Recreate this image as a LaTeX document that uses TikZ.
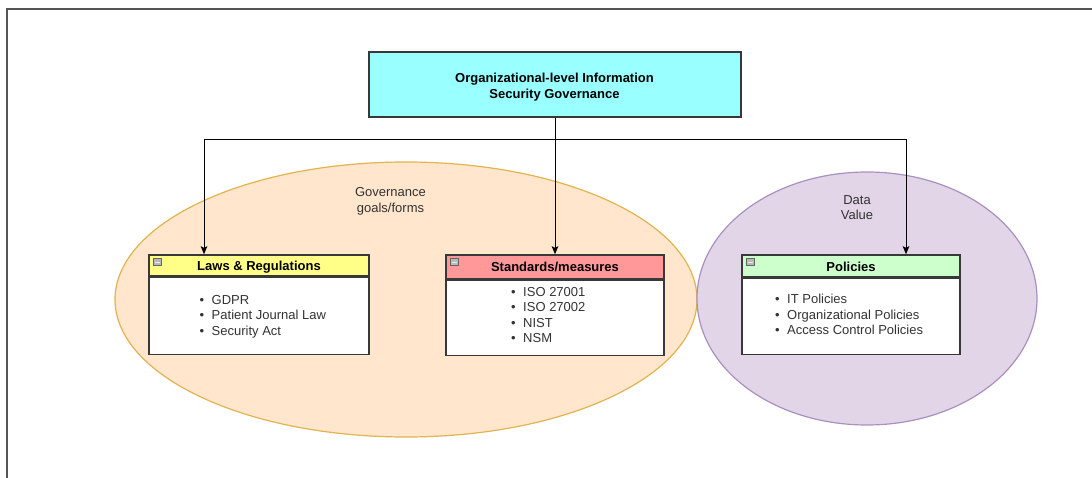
\documentclass[tikz,border=0pt]{standalone}
\usepackage{fontspec}
\setmainfont{Liberation Sans}
\usetikzlibrary{arrows.meta,calc,shapes.geometric}

\definecolor{topfill}{HTML}{99FFFF}
\definecolor{govfill}{HTML}{FFE6CC}
\definecolor{govline}{HTML}{E2B34E}
\definecolor{valfill}{HTML}{E1D5E7}
\definecolor{valline}{HTML}{AA90C0}
\definecolor{lawfill}{HTML}{FFFF88}
\definecolor{stdfill}{HTML}{FF9999}
\definecolor{polfill}{HTML}{CCFFCC}
\definecolor{boxline}{HTML}{383838}
\definecolor{itemtext}{HTML}{333333}
\definecolor{framecol}{HTML}{555555}

\newcommand{\bodyfont}{\fontsize{13}{15.6}\selectfont}
% bullet list, baseline on its first line
\newcommand{\bulletlist}[1]{%
  \begin{tabular}[t]{@{}l@{\hspace{7.5pt}}l@{}}#1\end{tabular}}
% centred lines, baseline on the first line
\newcommand{\stacked}[1]{%
  \begin{tabular}[t]{@{}c@{}}#1\end{tabular}}

\tikzset{
  frame/.style={draw=boxline, line width=1.4pt, inner sep=0pt},
  headbox/.style={frame, minimum width=#1},
  bodybox/.style={frame, fill=white, minimum width=#1},
  headtext/.style={font=\bodyfont\bfseries, text=black, inner sep=0pt, anchor=base},
  listtext/.style={font=\bodyfont, text=itemtext, inner sep=0pt, anchor=base west},
  note/.style={font=\bodyfont, text=itemtext, inner sep=0pt, anchor=base},
  link/.style={draw=black, line width=1pt, -{Stealth[length=8pt,width=6.5pt,inset=1.5pt]}},
  collapse/.style={draw=gray!80!black, fill=gray!55, line width=0.5pt,
    minimum width=8.5pt, minimum height=7pt, inner sep=0pt, anchor=north west}
}

\begin{document}
\begin{tikzpicture}[x=1pt,y=-1pt]
\useasboundingbox (0,0) rectangle (1092,478);

% page frame
\draw[framecol, line width=1.8pt] (7,478) -- (7,9) -- (1092,9);

% background groupings
\node[draw=govline, fill=govfill, line width=1.2pt, ellipse, minimum width=582pt,
  minimum height=275pt, inner sep=0pt] (gov) at (406,299.5) {};
\node[draw=valline, fill=valfill, line width=1.2pt, ellipse, minimum width=340pt,
  minimum height=253pt, inner sep=0pt] (val) at (867,298.5) {};

\node[note] (govlabel) at (390.5,196.7) {\stacked{Governance\\goals/forms}};
\node[note] (vallabel) at (857,204.3) {\stacked{Data\\Value}};

% top-level box
\node[frame, fill=topfill, minimum width=372pt, minimum height=65pt] (top) at (555,84.5) {};
\node[headtext] (toptext) at (554.5,82.5) {\stacked{Organizational-level Information\\Security Governance}};

% Laws & Regulations
\node[headbox=220pt, fill=lawfill, minimum height=21pt] (lawsH) at (259,265.5) {};
\node[bodybox=220pt, minimum height=77pt, anchor=north] (lawsB) at (lawsH.south) {};
\node[headtext] (lawsT) at (259,270.8) {Laws \& Regulations};
\node[listtext] (lawsL) at (199.5,304.3) {\bulletlist{• & GDPR\\ • & Patient Journal Law\\ • & Security Act}};
\node[collapse] (lawsI) at ($(lawsH.north west)+(4.5,4)$) {};
\draw[gray!15, line width=1pt] ($(lawsI.west)+(1.8,0)$) -- ($(lawsI.east)+(-1.8,0)$);

% Standards/measures
\node[headbox=218pt, fill=stdfill, minimum height=24pt] (stdH) at (555,267) {};
\node[bodybox=218pt, minimum height=75pt, anchor=north] (stdB) at (stdH.south) {};
\node[headtext] (stdT) at (555,271.7) {Standards/measures};
\node[listtext] (stdL) at (511,296.2) {\bulletlist{• & ISO 27001\\ • & ISO 27002\\ • & NIST\\ • & NSM}};
\node[collapse] (stdI) at ($(stdH.north west)+(4.5,4)$) {};
\draw[gray!15, line width=1pt] ($(stdI.west)+(1.8,0)$) -- ($(stdI.east)+(-1.8,0)$);

% Policies
\node[headbox=218pt, fill=polfill, minimum height=22pt] (polH) at (851,266) {};
\node[bodybox=218pt, minimum height=76pt, anchor=north] (polB) at (polH.south) {};
\node[headtext] (polT) at (851,271.8) {Policies};
\node[listtext] (polL) at (775,303.5) {\bulletlist{• & IT Policies\\ • & Organizational Policies\\ • & Access Control Policies}};
\node[collapse] (polI) at ($(polH.north west)+(4.5,4)$) {};
\draw[gray!15, line width=1pt] ($(polI.west)+(1.8,0)$) -- ($(polI.east)+(-1.8,0)$);

% connectors
\coordinate (split) at (top.south |- 0,140);
\draw[link] (top.south) -- (stdH.north);
\draw[link] (split) -| ([xshift=-55pt]lawsH.north);
\draw[link] (split) -| ([xshift=55pt]polH.north);
\end{tikzpicture}
\end{document}
